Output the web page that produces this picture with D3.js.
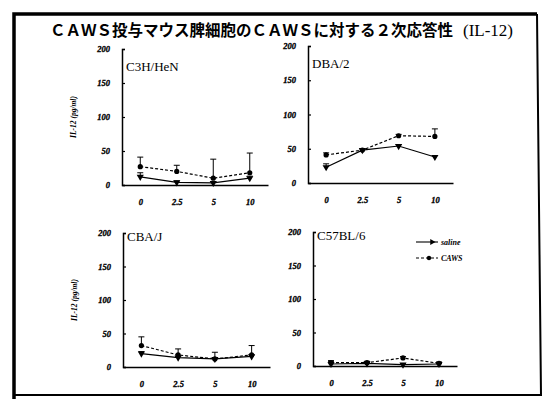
<!DOCTYPE html>
<html>
<head>
<meta charset="utf-8">
<script src="https://cdn.jsdelivr.net/npm/d3@7"></script>
<style>
  body { margin: 0; background: #fff; }
  svg { display: block; }
</style>
</head>
<body>
<div class="canvas"></div>
<script>
/////////////////////////////////
//** DATA **//

const cats = ['0', '2.5', '5', '10'];
const strains = ['C3H/HeN', 'DBA/2', 'CBA/J', 'C57BL/6'];
const yTicks = [0, 50, 100, 150, 200];

// IL-12 (pg/ml), one row per strain
const salineMean = [[12, 4, 3, 10], [23, 48, 54, 38], [20, 14, 12, 16], [3, 4, 2, 3]];
const salineErr  = [[6, 2, 2, 3], [5, 2, 2, 2], [3, 2, 2, 2], [4, 1, 1, 1]];
const cawsMean   = [[27, 20, 10, 18], [41, 48, 69, 68], [32, 18, 12, 18], [5, 5, 12, 4]];
const cawsErr    = [[14, 9, 28, 29], [3, 2, 2, 11], [13, 9, 10, 14], [3, 2, 2, 2]];

/////////////////////////////////
//** SVG CONTAINER **//

const svg = d3.select('.canvas')
    .append('svg')
    .attr('width', 544)
    .attr('height', 399);

// frame of the slide
svg.append('path')
    .attr('d', 'M14,399 L14,14 L537,14')
    .attr('fill', 'none').attr('stroke', '#000').attr('stroke-width', 3.5);
svg.append('path')
    .attr('d', 'M537,14 L541,395 L14,395')
    .attr('fill', 'none').attr('stroke', '#000').attr('stroke-width', 2);

// title
svg.append('text')
    .attr('x', 50).attr('y', 36)
    .attr('font-family', "'Noto Sans CJK JP'")
    .attr('font-weight', 'bold')
    .attr('font-size', 15.5)
    .text('ＣＡＷＳ投与マウス脾細胞のＣＡＷＳに対する２次応答性');
svg.append('text')
    .attr('x', 463).attr('y', 36)
    .attr('font-family', "'Liberation Serif'")
    .attr('font-size', 17)
    .text('(IL-12)');

// panel positions: x axis span and y span
const panels = [
    { x0: 122, x1: 268, yBot: 185, yTop: 49, ylab: true },
    { x0: 308, x1: 453, yBot: 183, yTop: 46, ylab: false },
    { x0: 123, x1: 270, yBot: 367, yTop: 233, ylab: true },
    { x0: 313, x1: 457, yBot: 366, yTop: 232, ylab: false }
];

const tickFont = "'Liberation Serif'";

panels.forEach((p, i) => {
    const x = d3.scalePoint().domain(cats).range([p.x0, p.x1]).padding(0.5);
    const y = d3.scaleLinear().domain([0, 200]).range([p.yBot, p.yTop]);

    const g = svg.append('g');

    // axes
    const yAxis = d3.axisLeft(y).tickValues(yTicks).tickSize(-3).tickPadding(12);
    const gy = g.append('g')
        .attr('transform', `translate(${p.x0},0)`)
        .call(yAxis);
    const xAxis = d3.axisBottom(x).tickSize(0).tickPadding(14);
    const gx = g.append('g')
        .attr('transform', `translate(0,${p.yBot})`)
        .call(xAxis);

    [gx, gy].forEach(a => {
        a.select('.domain').attr('stroke', '#000').attr('stroke-width', 1.5);
        a.selectAll('line').attr('stroke', '#000').attr('stroke-width', 1.2);
        a.selectAll('text')
            .attr('font-family', tickFont)
            .attr('font-style', 'italic')
            .attr('font-weight', 'bold')
            .attr('font-size', 8.5)
            .attr('stroke', '#000')
            .attr('stroke-width', 0.3)
            .attr('fill', '#000');
    });

    // strain name
    g.append('text')
        .attr('x', p.x0 + 4).attr('y', p.yTop + 22 - (i >= 2 ? 14 : 0))
        .attr('font-family', tickFont)
        .attr('font-size', 13)
        .text(strains[i]);

    if (p.ylab) {
        g.append('text')
            .attr('transform', `translate(${p.x0 - 46},${(p.yTop + p.yBot) / 2}) rotate(-90)`)
            .attr('text-anchor', 'middle')
            .attr('font-family', tickFont)
            .attr('font-style', 'italic')
            .attr('font-weight', 'bold')
            .attr('font-size', 7.5)
            .text('IL-12 (pg/ml)');
    }

    const series = [
        { mean: salineMean[i], err: salineErr[i], dash: null, mark: 'tri' },
        { mean: cawsMean[i], err: cawsErr[i], dash: '3,2', mark: 'dot' }
    ];

    series.forEach(s => {
        const pts = cats.map((c, k) => ({ c, v: s.mean[k], e: s.err[k] }));

        // error bars (upper only)
        g.selectAll(null).data(pts).enter()
            .append('path')
            .attr('d', d => {
                const cx = x(d.c), yv = y(d.v), ye = y(d.v + d.e);
                return `M${cx},${yv} L${cx},${ye} M${cx - 3},${ye} L${cx + 3},${ye}`;
            })
            .attr('stroke', '#000').attr('stroke-width', 1).attr('fill', 'none');

        const line = d3.line().x(d => x(d.c)).y(d => y(d.v));
        g.append('path')
            .datum(pts)
            .attr('d', line)
            .attr('fill', 'none')
            .attr('stroke', '#000')
            .attr('stroke-width', 1.2)
            .attr('stroke-dasharray', s.dash);

        if (s.mark === 'dot') {
            g.selectAll(null).data(pts).enter()
                .append('circle')
                .attr('cx', d => x(d.c)).attr('cy', d => y(d.v))
                .attr('r', 2.6).attr('fill', '#000');
        } else {
            g.selectAll(null).data(pts).enter()
                .append('path')
                .attr('d', d3.symbol(d3.symbolTriangle, 22))
                .attr('transform', d => `translate(${x(d.c)},${y(d.v)}) rotate(180)`)
                .attr('fill', '#000');
        }
    });
});

/////////////////////////////////
//** LEGEND **//

const legend = svg.append('g').attr('transform', 'translate(416,242)');
const legendItems = [
    { name: 'saline', dash: null, mark: 'tri' },
    { name: 'CAWS', dash: '3,2', mark: 'dot' }
];
legendItems.forEach((d, k) => {
    const ly = k * 16;
    legend.append('line')
        .attr('x1', 0).attr('x2', 22).attr('y1', ly).attr('y2', ly)
        .attr('stroke', '#000').attr('stroke-width', 1.1)
        .attr('stroke-dasharray', d.dash);
    if (d.mark === 'dot') {
        legend.append('circle').attr('cx', 13).attr('cy', ly).attr('r', 2.2);
    } else {
        legend.append('path')
            .attr('d', d3.symbol(d3.symbolTriangle, 16))
            .attr('transform', `translate(16,${ly}) rotate(90)`);
    }
    legend.append('text')
        .attr('x', 25).attr('y', ly + 3)
        .attr('font-family', tickFont)
        .attr('font-style', 'italic')
        .attr('font-weight', 'bold')
        .attr('font-size', 8)
        .text(d.name);
});
</script>
</body>
</html>
